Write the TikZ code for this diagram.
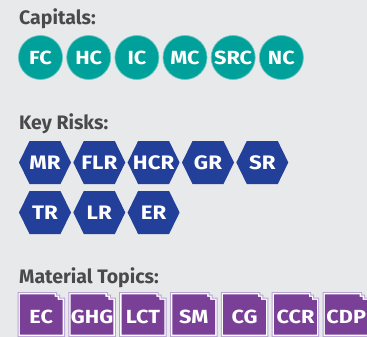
\documentclass[tikz,border=0pt]{standalone}
\usepackage{fontspec}
\setmainfont{Fira Sans}
\newfontfamily\widefont{Fira Sans}[FakeStretch=1.14]
\definecolor{bg}{HTML}{E8E9EB}
\definecolor{headcol}{HTML}{4A4A4C}
\definecolor{tealcol}{HTML}{00A19B}
\definecolor{riskcol}{HTML}{22409A}
\definecolor{topiccol}{HTML}{7A3F97}
\definecolor{topicline}{HTML}{B7A2D2}
\newcommand\notchpath[5]{%
  \fill[#5] (#1,#2) -- ({#1+#3-8},#2) -- ({#1+#3-8},{#2+2.5}) -- ({#1+#3-5},{#2+2.5})
    -- ({#1+#3-5},{#2+5.5}) -- ({#1+#3},{#2+5.5}) -- ({#1+#3},{#2+#4}) -- (#1,{#2+#4}) -- cycle;}
\begin{document}
\begin{tikzpicture}[x=1pt,y=-1pt,
  heading/.style={anchor=base west,inner sep=0pt,text=headcol,font=\bfseries\fontsize{19.5}{21}\selectfont},
  capital/.style={circle,fill=tealcol,draw=tealcol!60!white,line width=0.7pt,minimum size=44pt,inner sep=0pt,text=white,font=\widefont\bfseries\fontsize{19}{19}\selectfont},
  risk/.style={inner sep=0pt,text=white,font=\widefont\bfseries\fontsize{19.5}{19}\selectfont},
  topic/.style={inner sep=0pt,text=white,font=\widefont\bfseries\fontsize{19}{19}\selectfont}]
\fill[bg] (0,0) rectangle (367,337);
\useasboundingbox (0,0) rectangle (367,337);
\node[heading] (hcap) at (19,25) {Capitals:};
\foreach \x/\t/\n in {40.5/FC/fc, 88.7/HC/hc, 136.9/IC/ic, 185/MC/mc, 233.2/SRC/src, 281.4/NC/nc}
  \node[capital] (\n) at (\x,57.5) {\t};
\node[heading] (hrisk) at (19,129.3) {Key Risks:};
\foreach \x/\y/\t/\n in {45/162.5/MR/mr, 99.3/162.5/FLR/flr, 153.6/162.5/HCR/hcr, 208/162.5/GR/gr, 262.3/162.5/SR/sr, 45/212.5/TR/tr, 99.3/212.5/LR/lr, 153.6/212.5/ER/er}{
  \fill[riskcol] ({\x-26},\y) -- ({\x-15.5},{\y-21.5}) -- ({\x+15.5},{\y-21.5}) -- ({\x+26},\y)
    -- ({\x+15.5},{\y+21.5}) -- ({\x-15.5},{\y+21.5}) -- cycle;
  \node[risk] (\n) at (\x,\y) {\t};}
\node[heading] (htopic) at (19,283.3) {Material Topics:};
\foreach \x/\t/\n in {17.5/EC/ec, 68.3/GHG/ghg, 119.2/LCT/lct, 170/SM/sm, 220.8/CG/cg, 271.7/CCR/ccr, 322.5/CDP/cdp}{
  \notchpath{\x}{292}{47.5}{45}{topicline}
  \notchpath{\x+1}{293}{45.5}{43}{white}
  \notchpath{\x+2.4}{294.4}{42.7}{40.2}{topiccol}
  \node[topic] (\n) at ({\x+23.75},316.5) {\t};}
\end{tikzpicture}
\end{document}
